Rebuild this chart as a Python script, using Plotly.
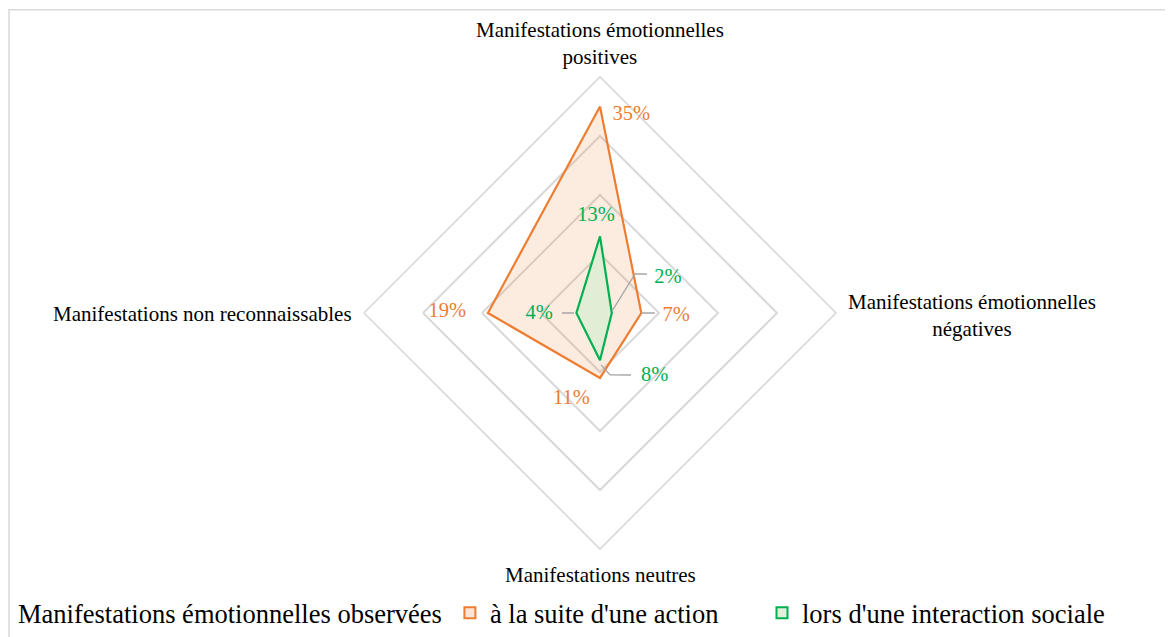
import plotly.graph_objects as go

# ---- data ----
categories = [
    "Manifestations émotionnelles positives",
    "Manifestations émotionnelles négatives",
    "Manifestations neutres",
    "Manifestations non reconnaissables",
]
series_names = ["à la suite d'une action", "lors d'une interaction sociale"]
action_values = [35, 7, 11, 19]
social_values = [13, 2, 8, 4]
legend_title = "Manifestations émotionnelles observées"

# ---- styling / label placement (polar overlay, theta clockwise from top) ----
OFF = 8  # page body margin
W, H = 1173 - OFF, 637 - OFF
CX, CY, RAD = 600 - OFF, 313 - OFF, 236
FONT = "Liberation Serif"
ORANGE, GREEN = "#ED7D31", "#00B050"
GRID = "#d9d9d9"
LEADER = "#a6a6a6"


def px(x):
    return (x - OFF) / W


def py(y):
    return 1 - (y - OFF) / H


action_label_r = [34.0, 12.9, 15.3, 25.9]
action_label_t = [9.0, 92.5, 198.5, 270.3]
social_label_r = [16.5, 13.0, 14.1, 10.3]
social_label_t = [357.6, 62.5, 139.0, 269.0]
leaders = [
    ([10.35, 8.88, 2.1], [50.3, 41.9, 80]),
    ([7.0, 9.3], [90, 90]),
    ([8.8, 10.64, 11.75], [178.9, 170.8, 153.4]),
    ([4.4, 6.44], [270, 270]),
]

dom_x = [(CX - RAD) / W, (CX + RAD) / W]
dom_y = [(H - CY - RAD) / H, (H - CY + RAD) / H]

fig = go.Figure()


def closed(v):
    return list(v) + [v[0]]


fig.add_trace(go.Scatterpolar(
    r=closed(action_values), theta=closed(categories), mode="lines",
    fill="toself", fillcolor="rgba(237,125,49,0.15)",
    line=dict(color=ORANGE, width=2.2), showlegend=False, subplot="polar",
))
fig.add_trace(go.Scatterpolar(
    r=closed(social_values), theta=closed(categories), mode="lines",
    fill="toself", fillcolor="rgb(226,237,214)",
    line=dict(color=GREEN, width=2.2), showlegend=False, subplot="polar",
))

# leader lines
for rr, tt in leaders:
    fig.add_trace(go.Scatterpolar(
        r=rr, theta=tt, mode="lines", line=dict(color=LEADER, width=1.3),
        showlegend=False, hoverinfo="skip", subplot="polar2",
    ))

# data labels
fig.add_trace(go.Scatterpolar(
    r=action_label_r, theta=action_label_t, mode="text",
    text=[f"{v}%" for v in action_values],
    textfont=dict(family=FONT, size=20.5, color=ORANGE),
    showlegend=False, subplot="polar2",
))
fig.add_trace(go.Scatterpolar(
    r=social_label_r, theta=social_label_t, mode="text",
    text=[f"{v}%" for v in social_values],
    textfont=dict(family=FONT, size=20.5, color=GREEN),
    showlegend=False, subplot="polar2",
))

# legend entries
for name, col, fc, lg in [(series_names[0], ORANGE, "rgb(252,228,214)", "legend"),
                          (series_names[1], GREEN, "rgb(226,239,218)", "legend2")]:
    fig.add_trace(go.Scatterpolar(
        r=[None], theta=[None], mode="markers", name=name, legend=lg,
        marker=dict(symbol="square", size=11, color=fc, line=dict(color=col, width=2)),
        subplot="polar",
    ))

leg_font = dict(family=FONT, size=26.5, color="#000000")

fig.update_layout(
    width=W, height=H,
    margin=dict(l=0, r=0, t=0, b=0),
    paper_bgcolor="white",
    font=dict(family=FONT, color="#000000"),
    polar=dict(
        domain=dict(x=dom_x, y=dom_y),
        bgcolor="rgba(0,0,0,0)",
        gridshape="linear",
        radialaxis=dict(range=[0, 40], tickvals=[10, 20, 30], showticklabels=False,
                        ticks="", showline=False, gridcolor=GRID, gridwidth=1.6),
        angularaxis=dict(type="category", rotation=90, direction="clockwise",
                         showticklabels=False, ticks="", showgrid=False,
                         showline=True, linecolor=GRID, linewidth=1.6),
    ),
    polar2=dict(
        domain=dict(x=dom_x, y=dom_y),
        bgcolor="rgba(0,0,0,0)",
        radialaxis=dict(range=[0, 40], visible=False, showgrid=False),
        angularaxis=dict(rotation=90, direction="clockwise", visible=False,
                         showgrid=False, showline=False, showticklabels=False, ticks=""),
    ),
    legend=dict(
        orientation="h", x=px(16), xanchor="left", y=0, yanchor="bottom",
        font=leg_font,
        title=dict(text=legend_title, side="left", font=leg_font),
        bgcolor="rgba(0,0,0,0)",
    ),
    legend2=dict(
        orientation="h", x=px(762), xanchor="left", y=0, yanchor="bottom",
        font=leg_font,
        bgcolor="rgba(0,0,0,0)",
    ),
    shapes=[dict(type="rect", xref="paper", yref="paper",
                 x0=px(9), x1=px(1174), y0=-0.02, y1=py(9.8),
                 line=dict(color=GRID, width=1.5), fillcolor="rgba(0,0,0,0)", layer="below")],
)

# category labels
cat_font = dict(family=FONT, size=21, color="#000000")
fig.add_annotation(text="Manifestations émotionnelles<br>positives", x=px(600), y=py(43),
                   xref="paper", yref="paper", xanchor="center", yanchor="middle",
                   showarrow=False, align="center", font=cat_font)
fig.add_annotation(text="Manifestations émotionnelles<br>négatives", x=px(846), y=py(315),
                   xref="paper", yref="paper", xanchor="left", yanchor="middle",
                   showarrow=False, align="center", font=cat_font)
fig.add_annotation(text=categories[2], x=px(600), y=py(575),
                   xref="paper", yref="paper", xanchor="center", yanchor="middle",
                   showarrow=False, align="center", font=cat_font)
fig.add_annotation(text=categories[3], x=px(354), y=py(314),
                   xref="paper", yref="paper", xanchor="right", yanchor="middle",
                   showarrow=False, align="center", font=cat_font)

fig.write_html("out.html")
